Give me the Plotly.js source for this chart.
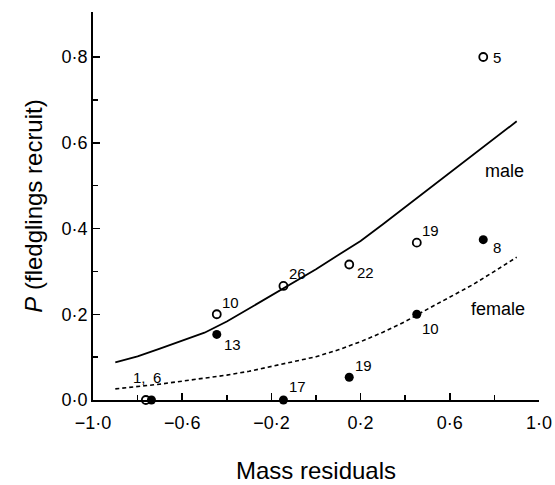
<!DOCTYPE html>
<html><head><meta charset="utf-8">
<script src="https://cdn.plot.ly/plotly-3.0.1.min.js"></script>
<style>body{margin:0;background:#fff}#c{width:555px;height:485px}</style>
</head><body><div id="c"></div>
<script>
// Data
const curveX = [-0.9,-0.8,-0.7,-0.6,-0.5,-0.4,-0.3,-0.2,-0.1,0.0,0.1,0.2,0.3,0.4,0.5,0.6,0.7,0.8,0.9];
const maleCurve = [0.088,0.102,0.120,0.139,0.157,0.183,0.213,0.245,0.275,0.305,0.338,0.371,0.410,0.450,0.490,0.530,0.570,0.610,0.650];
const femaleCurve = [0.026,0.031,0.037,0.044,0.051,0.058,0.067,0.078,0.089,0.101,0.117,0.136,0.158,0.183,0.212,0.240,0.268,0.300,0.333];
const maleX = [-0.763,-0.445,-0.146,0.149,0.452,0.75];
const maleY = [0.0,0.2,0.266,0.316,0.367,0.8];
const maleN = ["1,","10","26","22","19","5"];
const femaleX = [-0.738,-0.445,-0.146,0.149,0.452,0.75];
const femaleY = [0.0,0.153,0.0,0.053,0.2,0.374];
const femaleN = ["6","13","17","19","10","8"];
const xTickVals = [-1.0,-0.6,-0.2,0.2,0.6,1.0];
const xTickText = ["\u22121\u00b70","\u22120\u00b76","\u22120\u00b72","0\u00b72","0\u00b76","1\u00b70"];
const xMinorVals = [-0.8,-0.4,0.0,0.4,0.8];
const yTickVals = [0.0,0.2,0.4,0.6,0.8];
const yTickText = ["0\u00b70","0\u00b72","0\u00b74","0\u00b76","0\u00b78"];
const yMinorVals = [0.1,0.3,0.5,0.7];
const curveLabels = ["male","female"];
const curveLabelX = [0.846,0.817];
const curveLabelY = [0.535,0.213];

// Label offsets (style)
const maleShift = [[-6,23],[14,12],[14,12],[16,-8],[14,12],[14,0]];
const femaleShift = [[6,23],[16,-10],[14,14],[14,12],[14,-14],[14,-8]];

const font = "Liberation Sans, Arial, sans-serif";
const traces = [
  {x: curveX, y: maleCurve, mode:'lines', line:{color:'#000', width:1.8}, hoverinfo:'skip'},
  {x: curveX, y: femaleCurve, mode:'lines', line:{color:'#000', width:1.6, dash:'4px,3px'}, hoverinfo:'skip'},
  {x: maleX, y: maleY, mode:'markers', marker:{symbol:'circle-open', size:8, color:'#000', line:{width:1.8}}, cliponaxis:false},
  {x: femaleX, y: femaleY, mode:'markers', marker:{symbol:'circle', size:9, color:'#000'}, cliponaxis:false}
];
const ann = [];
maleX.forEach((x,i)=>ann.push({x:x, y:maleY[i], text:maleN[i], showarrow:false, xshift:maleShift[i][0], yshift:maleShift[i][1], font:{family:font,size:15,color:'#000'}}));
femaleX.forEach((x,i)=>ann.push({x:x, y:femaleY[i], text:femaleN[i], showarrow:false, xshift:femaleShift[i][0], yshift:femaleShift[i][1], font:{family:font,size:15,color:'#000'}}));
curveLabels.forEach((t,i)=>ann.push({x:curveLabelX[i], y:curveLabelY[i], text:t, showarrow:false, font:{family:font,size:18,color:'#000'}}));

const layout = {
  width:555, height:485,
  margin:{l:93, r:16, t:12, b:85},
  paper_bgcolor:'#fff', plot_bgcolor:'#fff',
  showlegend:false,
  font:{family:font, color:'#000'},
  xaxis:{range:[-1,1], tickmode:'array', tickvals:xTickVals, ticktext:xTickText, ticks:'inside', ticklen:7, tickwidth:1.5, tickcolor:'#000',
    minor:{tickmode:'array', tickvals:xMinorVals, ticks:'inside', ticklen:5, tickwidth:1.5, tickcolor:'#000', showgrid:false},
    ticklabelstandoff:6,
    showline:true, linecolor:'#000', linewidth:1.8, showgrid:false, zeroline:false, tickfont:{size:18},
    title:{text:'Mass residuals', font:{size:24}, standoff:30}},
  yaxis:{range:[0,0.905], tickmode:'array', tickvals:yTickVals, ticktext:yTickText, ticks:'inside', ticklen:7, tickwidth:1.5, tickcolor:'#000',
    minor:{tickmode:'array', tickvals:yMinorVals, ticks:'inside', ticklen:5, tickwidth:1.5, tickcolor:'#000', showgrid:false},
    showline:true, linecolor:'#000', linewidth:1.8, showgrid:false, zeroline:false, tickfont:{size:18},
    title:{text:'<i>P</i> (fledglings recruit)', font:{size:24}, standoff:12}},
  annotations: ann
};
Plotly.newPlot('c', traces, layout, {displayModeBar:false, staticPlot:true});
</script></body></html>
